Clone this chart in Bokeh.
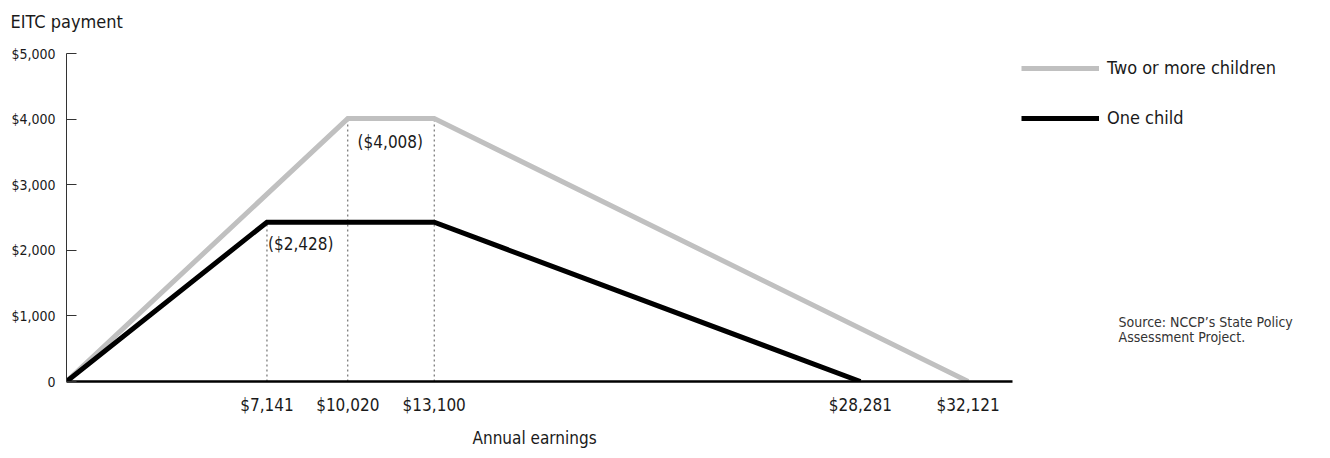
from bokeh.plotting import figure
from bokeh.models import (Range1d, FixedTicker, Label, Legend, LegendItem, Title)
from bokeh.embed import file_html
from bokeh.resources import INLINE

# ---- data ----
one_x = [0, 7141, 13100, 28281]
one_y = [0, 2428, 2428, 0]
two_x = [0, 10020, 13100, 32121]
two_y = [0, 4008, 4008, 0]
xticks = [7141, 10020, 13100, 28281, 32121]
yticks = [0, 1000, 2000, 3000, 4000, 5000]
guide_x = [7141, 10020, 13100]
guide_top = [2428, 4008, 4008]

FONT = "'DejaVu Sans Condensed', Roboto, sans-serif"

# ---- layout geometry (pixels) ----
W, H = 1322, 456
LEFT = 66          # y axis position
TOP = 36           # frame top
AXIS_Y = 381       # x axis position
AXIS_W = 946       # length of x axis line
AXIS_H = 328       # length of y axis line
X_MAX = 33700      # x value at end of x axis line
Y_MAX = 5000

x_end = (W - LEFT) * X_MAX / AXIS_W
y_end = Y_MAX * (AXIS_Y - TOP) / AXIS_H

p = figure(width=W, height=H, output_backend="svg", toolbar_location=None,
           x_range=Range1d(0, x_end), y_range=Range1d(0, y_end),
           min_border_left=LEFT, min_border_top=TOP, min_border_bottom=H - AXIS_Y,
           min_border_right=0)
p.grid.visible = False
p.outline_line_color = None
p.background_fill_color = "white"

p.title.text = "EITC payment"
p.title.align = "left"
p.title.offset = -(LEFT - 10)
p.title.text_font = FONT
p.title.text_font_size = "18px"
p.title.text_font_style = "normal"
p.title.text_color = "#1a1a1a"

# guides
p.segment(x0=guide_x, y0=[0]*3, x1=guide_x, y1=guide_top,
          line_color="#555555", line_width=1, line_dash="2 3")

gray = p.line(two_x, two_y, line_color="#c0c0c0", line_width=5, line_join="miter")
black = p.line(one_x, one_y, line_color="black", line_width=5, line_join="miter")

# axes
xa = p.xaxis[0]
xa.bounds = (0, X_MAX)
xa.ticker = FixedTicker(ticks=xticks)
xa.major_label_overrides = {t: "${:,}".format(t) for t in xticks}
xa.major_tick_line_color = None
xa.minor_tick_line_color = None
xa.axis_line_width = 2.5
xa.axis_line_color = "black"
xa.major_label_text_font = FONT
xa.major_label_text_font_size = "17px"
xa.major_label_text_color = "#1a1a1a"
xa.major_label_standoff = 7

p.add_layout(Title(text="Annual earnings", align="left", offset=472 - LEFT,
                   text_font=FONT, text_font_size="17px", text_font_style="normal",
                   text_color="#1a1a1a", standoff=17), "below")

ya = p.yaxis[0]
ya.bounds = (0, Y_MAX)
ya.ticker = FixedTicker(ticks=yticks)
ya.major_label_overrides = {t: ("0" if t == 0 else "${:,}".format(t)) for t in yticks}
ya.major_tick_in = 10
ya.major_tick_out = 0
ya.major_tick_line_color = "#333333"
ya.minor_tick_line_color = None
ya.axis_line_color = "#333333"
ya.axis_line_width = 1
ya.major_label_text_font = FONT
ya.major_label_text_font_size = "14px"
ya.major_label_text_color = "#1a1a1a"
ya.major_label_standoff = 11

# annotations
p.add_layout(Label(x=10020 + 350, y=4008 - 350, text="($4,008)", text_font=FONT,
                   text_font_size="17px", text_baseline="middle", text_color="#1a1a1a"))
p.add_layout(Label(x=7141 + 40, y=2428 - 330, text="($2,428)", text_font=FONT,
                   text_font_size="17px", text_baseline="middle", text_color="#1a1a1a"))

p.add_layout(Label(x=37480, y=900, text="Source: NCCP\u2019s State Policy", text_font=FONT,
                   text_font_size="14px", text_baseline="middle", text_color="#333333"))
p.add_layout(Label(x=37480, y=671, text="Assessment Project.", text_font=FONT,
                   text_font_size="14px", text_baseline="middle", text_color="#333333"))

legend = Legend(items=[LegendItem(label="Two or more children", renderers=[gray]),
                       LegendItem(label="One child", renderers=[black])],
                location=(955, 253), orientation="vertical")
legend.glyph_width = 78
legend.glyph_height = 20
legend.label_height = 20
legend.label_standoff = 8
legend.spacing = 29
legend.padding = 0
legend.margin = 0
legend.border_line_color = None
legend.background_fill_alpha = 0
legend.label_text_font = FONT
legend.label_text_font_size = "18px"
legend.label_text_color = "#1a1a1a"
p.add_layout(legend)

open("out.html", "w").write(file_html(p, INLINE))
